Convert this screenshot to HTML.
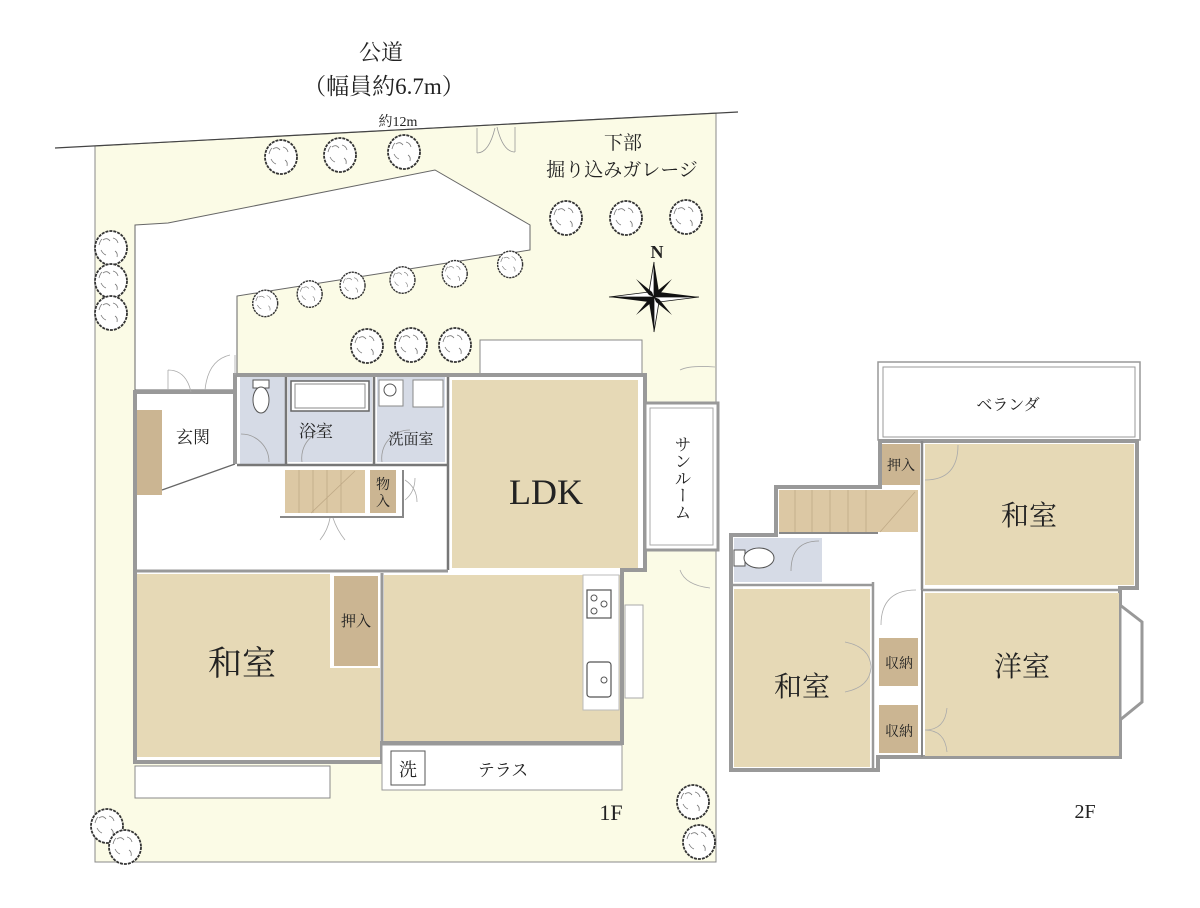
<!DOCTYPE html>
<html><head><meta charset="utf-8"><style>
html,body{margin:0;padding:0;background:#fff;}
svg{display:block;}
text{font-family:"Liberation Serif","Noto Serif CJK SC","Noto Sans CJK JP",serif;fill:#222;}
</style></head><body>
<svg width="1200" height="908" viewBox="0 0 1200 908" xmlns="http://www.w3.org/2000/svg">
<defs>
<g id="tr"><ellipse cx="0" cy="0" rx="16" ry="17" fill="#fff" stroke="#333" stroke-width="1.8" stroke-dasharray="3 1"/><path d="M-8,-8 q4,-3 7,1 M2,-10 q4,1 5,5 M-10,2 q2,4 5,5 M4,3 q3,2 2,6 M-12,-3 q1,-4 3,-6" stroke="#777" fill="none" stroke-width="0.8"/></g>
</defs>
<polygon points="95,146 716,113 716,862 95,862" fill="#fbfbe6" stroke="#888" stroke-width="1"/>
<line x1="55" y1="148" x2="738" y2="112" stroke="#444" stroke-width="1.2"/>
<polygon points="135,225 168,223 435,170 530,225 530,250 237,296 237,390 135,390" fill="#fff" stroke="#666" stroke-width="1"/>
<rect x="480" y="340" width="162" height="35" fill="#fff" stroke="#888"/>
<path d="M477,128 v25 M515,127 v25 M477,153 q12,0 18,-25 M515,152 q-12,0 -18,-25" stroke="#999" fill="none" stroke-width="0.8"/>
<use href="#tr" x="281" y="157"/><use href="#tr" x="340" y="155"/><use href="#tr" x="404" y="152"/>
<use href="#tr" x="566" y="218"/><use href="#tr" x="626" y="218"/><use href="#tr" x="686" y="217"/>
<use href="#tr" x="111" y="248"/><use href="#tr" x="111" y="281"/><use href="#tr" x="111" y="313"/>
<g transform="scale(0.78)"><use href="#tr" x="340" y="389"/><use href="#tr" x="397" y="377"/><use href="#tr" x="452" y="366"/><use href="#tr" x="516" y="359"/><use href="#tr" x="583" y="351"/><use href="#tr" x="654" y="339"/></g>
<use href="#tr" x="367" y="346"/><use href="#tr" x="411" y="345"/><use href="#tr" x="455" y="345"/>
<use href="#tr" x="693" y="802"/><use href="#tr" x="699" y="842"/><use href="#tr" x="107" y="826"/><use href="#tr" x="125" y="847"/>
<text x="381" y="60" font-size="22" text-anchor="middle">公道</text>
<text x="384" y="94" font-size="23" text-anchor="middle">（幅員約6.7m）</text>
<text x="398" y="126" font-size="14" text-anchor="middle">約12m</text>
<text x="623" y="149" font-size="19" text-anchor="middle">下部</text>
<text x="622" y="176" font-size="19" text-anchor="middle">掘り込みガレージ</text>
<text x="657" y="258" font-size="18" font-weight="bold" text-anchor="middle">N</text>
<g transform="translate(654,297)">
<polygon points="0,-35 5,-5 0,0" fill="#111"/><polygon points="0,-35 -5,-5 0,0" fill="#fff" stroke="#111" stroke-width="0.8"/>
<polygon points="0,35 -5,5 0,0" fill="#111"/><polygon points="0,35 5,5 0,0" fill="#fff" stroke="#111" stroke-width="0.8"/>
<polygon points="-45,0 -5,5 0,0" fill="#111"/><polygon points="-45,0 -5,-5 0,0" fill="#fff" stroke="#111" stroke-width="0.8"/>
<polygon points="45,0 5,-5 0,0" fill="#111"/><polygon points="45,0 5,5 0,0" fill="#fff" stroke="#111" stroke-width="0.8"/>
<polygon points="-18,-18 -2,-5 0,0 -5,-2" fill="#111"/><polygon points="18,-18 2,-5 0,0 5,-2" fill="#111"/>
<polygon points="-18,18 -2,5 0,0 -5,2" fill="#111"/><polygon points="18,18 2,5 0,0 5,2" fill="#111"/>
</g>
<g stroke="#999" stroke-width="4" fill="none">
<polygon points="135,392 235,392 235,375 645,375 645,570 622,570 622,743 382,743 382,762 135,762" fill="#fff"/>
</g>
<rect x="645" y="403" width="73" height="147" fill="#fff" stroke="#999" stroke-width="3"/>
<rect x="650" y="408" width="63" height="137" fill="#fff" stroke="#aaa" stroke-width="1"/>
<text x="681" y="478" font-size="17" text-anchor="middle" style="writing-mode:vertical-rl">サンルーム</text>
<rect x="240" y="377" width="45" height="88" fill="#d6dbe6"/>
<rect x="288" y="377" width="84" height="85" fill="#d6dbe6"/>
<rect x="377" y="377" width="68" height="85" fill="#d6dbe6"/>
<g stroke="#777" stroke-width="2.5" fill="none">
<line x1="237" y1="465" x2="448" y2="465"/><line x1="286" y1="377" x2="286" y2="465"/><line x1="374" y1="377" x2="374" y2="465"/><line x1="448" y1="377" x2="448" y2="570"/>
</g>
<rect x="291" y="381" width="78" height="30" fill="#fff" stroke="#666" stroke-width="1.5"/>
<rect x="295" y="384" width="70" height="24" fill="none" stroke="#888" stroke-width="1"/>
<rect x="253" y="380" width="16" height="8" fill="#fff" stroke="#555"/>
<ellipse cx="261" cy="400" rx="8" ry="13" fill="#fff" stroke="#555"/>
<rect x="379" y="380" width="24" height="26" fill="#fff" stroke="#888"/>
<circle cx="390" cy="390" r="6" fill="#fff" stroke="#555"/>
<rect x="413" y="380" width="30" height="27" fill="#fff" stroke="#888"/>
<path d="M241,434 a28,28 0 0 1 28,28 M330,430 a28,28 0 0 0 -28,32 M410,430 a28,28 0 0 0 -28,32" stroke="#999" fill="none" stroke-width="0.8"/>
<text x="316" y="437" font-size="17" text-anchor="middle">浴室</text>
<text x="411" y="444" font-size="15" text-anchor="middle">洗面室</text>
<rect x="137" y="410" width="25" height="85" fill="#cbb592"/>
<line x1="162" y1="490" x2="235" y2="464" stroke="#666" stroke-width="1.2"/>
<line x1="235" y1="392" x2="235" y2="464" stroke="#999" stroke-width="4"/>
<text x="193" y="443" font-size="17" text-anchor="middle">玄関</text>
<path d="M168,390 v-20 M235,375 v-20 M168,370 q18,0 23,22 M230,355 q-22,5 -25,35" stroke="#aaa" fill="none" stroke-width="0.8"/>
<rect x="285" y="470" width="80" height="43" fill="#dcc8a4"/>
<g stroke="#bfa986" stroke-width="0.8"><line x1="299" y1="470" x2="299" y2="513"/><line x1="313" y1="470" x2="313" y2="513"/><line x1="327" y1="470" x2="327" y2="513"/><line x1="341" y1="470" x2="341" y2="513"/><line x1="311" y1="513" x2="355" y2="471"/></g>
<rect x="370" y="470" width="26" height="43" fill="#cbb592"/>
<text x="383" y="489" font-size="14" text-anchor="middle">物</text><text x="383" y="506" font-size="14" text-anchor="middle">入</text>
<polyline points="280,517 403,517 403,470" fill="none" stroke="#888" stroke-width="2"/>
<path d="M320,540 q8,-10 10,-22 M345,540 q-8,-10 -12,-22 M405,500 q10,-8 10,-22 M405,480 q12,8 12,22" stroke="#aaa" fill="none" stroke-width="0.8"/>
<rect x="452" y="380" width="186" height="188" fill="#e6d9b6"/>
<text x="546" y="504" font-size="36" text-anchor="middle">LDK</text>
<path d="M680,370 q10,-5 35,-3 M680,570 q5,15 30,18" stroke="#aaa" fill="none" stroke-width="0.8"/>
<line x1="135" y1="571" x2="448" y2="571" stroke="#999" stroke-width="3"/>
<polygon points="137,574 330,574 330,668 380,668 380,757 137,757" fill="#e6d9b6"/>
<rect x="334" y="576" width="44" height="90" fill="#cbb592"/>
<text x="356" y="626" font-size="15" text-anchor="middle">押入</text>
<text x="242" y="675" font-size="34" text-anchor="middle">和室</text>
<rect x="135" y="766" width="195" height="32" fill="#fff" stroke="#888"/>
<rect x="384" y="575" width="236" height="166" fill="#e6d9b6"/>
<line x1="382" y1="573" x2="382" y2="743" stroke="#999" stroke-width="3"/>
<rect x="583" y="575" width="36" height="135" fill="#fff" stroke="#bbb"/>
<rect x="587" y="590" width="24" height="28" fill="#fff" stroke="#555" stroke-width="1.2"/>
<circle cx="594" cy="598" r="3" fill="none" stroke="#555"/><circle cx="594" cy="611" r="3" fill="none" stroke="#555"/><circle cx="604" cy="604" r="3" fill="none" stroke="#555"/>
<rect x="587" y="662" width="24" height="35" rx="3" fill="#fff" stroke="#555" stroke-width="1.2"/>
<circle cx="604" cy="680" r="3" fill="none" stroke="#555"/>
<rect x="625" y="605" width="18" height="93" fill="#fff" stroke="#aaa"/>
<rect x="382" y="745" width="240" height="45" fill="#fff" stroke="#999"/>
<rect x="391" y="751" width="34" height="34" fill="#fff" stroke="#555"/>
<text x="408" y="776" font-size="18" text-anchor="middle">洗</text>
<text x="503" y="776" font-size="17" text-anchor="middle">テラス</text>
<text x="611" y="820" font-size="22" text-anchor="middle">1F</text>
<rect x="878" y="362" width="262" height="78" fill="#fff" stroke="#999" stroke-width="1.5"/>
<rect x="883" y="367" width="252" height="70" fill="#fff" stroke="#999" stroke-width="1"/>
<text x="1008" y="410" font-size="16" text-anchor="middle">ベランダ</text>
<polygon points="880,441 1137,441 1137,588 1120,588 1120,757 878,757 878,770 731,770 731,535 776,535 776,487 880,487" fill="#fff" stroke="#999" stroke-width="4"/>
<polygon points="1120,605 1142,622 1142,702 1120,720" fill="#fff" stroke="#999" stroke-width="3"/>
<rect x="882" y="444" width="38" height="41" fill="#cbb592"/>
<text x="901" y="470" font-size="14" text-anchor="middle">押入</text>
<rect x="925" y="444" width="209" height="141" fill="#e6d9b6"/>
<line x1="922" y1="441" x2="922" y2="590" stroke="#888" stroke-width="2.5"/>
<text x="1029" y="525" font-size="28" text-anchor="middle">和室</text>
<path d="M925,480 q33,0 33,-35" stroke="#aaa" fill="none" stroke-width="0.8"/>
<rect x="779" y="490" width="139" height="42" fill="#dcc8a4"/>
<g stroke="#bfa986" stroke-width="0.8"><line x1="795" y1="490" x2="795" y2="532"/><line x1="812" y1="490" x2="812" y2="532"/><line x1="830" y1="490" x2="830" y2="532"/><line x1="848" y1="490" x2="848" y2="532"/><line x1="866" y1="490" x2="866" y2="532"/><line x1="880" y1="532" x2="915" y2="492"/></g>
<line x1="779" y1="533" x2="878" y2="533" stroke="#888" stroke-width="2"/>
<rect x="734" y="538" width="88" height="44" fill="#d6dbe6"/>
<rect x="734" y="550" width="11" height="16" fill="#fff" stroke="#555"/>
<ellipse cx="759" cy="558" rx="15" ry="10" fill="#fff" stroke="#555"/>
<path d="M791,571 q0,-30 28,-30" stroke="#999" fill="none" stroke-width="0.8"/>
<rect x="734" y="589" width="136" height="178" fill="#e6d9b6"/>
<line x1="873" y1="582" x2="873" y2="770" stroke="#999" stroke-width="2.5"/>
<line x1="731" y1="585" x2="873" y2="585" stroke="#999" stroke-width="2.5"/>
<text x="802" y="696" font-size="28" text-anchor="middle">和室</text>
<path d="M845,642 q25,5 26,25 M845,692 q25,-5 26,-25 M881,625 q0,-35 35,-35" stroke="#aaa" fill="none" stroke-width="0.8"/>
<rect x="879" y="638" width="39" height="48" fill="#cbb592"/><rect x="879" y="705" width="39" height="48" fill="#cbb592"/>
<text x="899" y="668" font-size="14" text-anchor="middle">収納</text><text x="899" y="736" font-size="14" text-anchor="middle">収納</text>
<rect x="925" y="593" width="194" height="163" fill="#e6d9b6"/>
<line x1="922" y1="590" x2="1120" y2="590" stroke="#999" stroke-width="2.5"/>
<line x1="922" y1="590" x2="922" y2="757" stroke="#888" stroke-width="2"/>
<text x="1022" y="676" font-size="28" text-anchor="middle">洋室</text>
<path d="M925,730 q20,0 22,22 M925,730 q20,0 22,-22" stroke="#aaa" fill="none" stroke-width="0.8"/>
<text x="1085" y="818" font-size="20" text-anchor="middle">2F</text>
</svg>
</body></html>
